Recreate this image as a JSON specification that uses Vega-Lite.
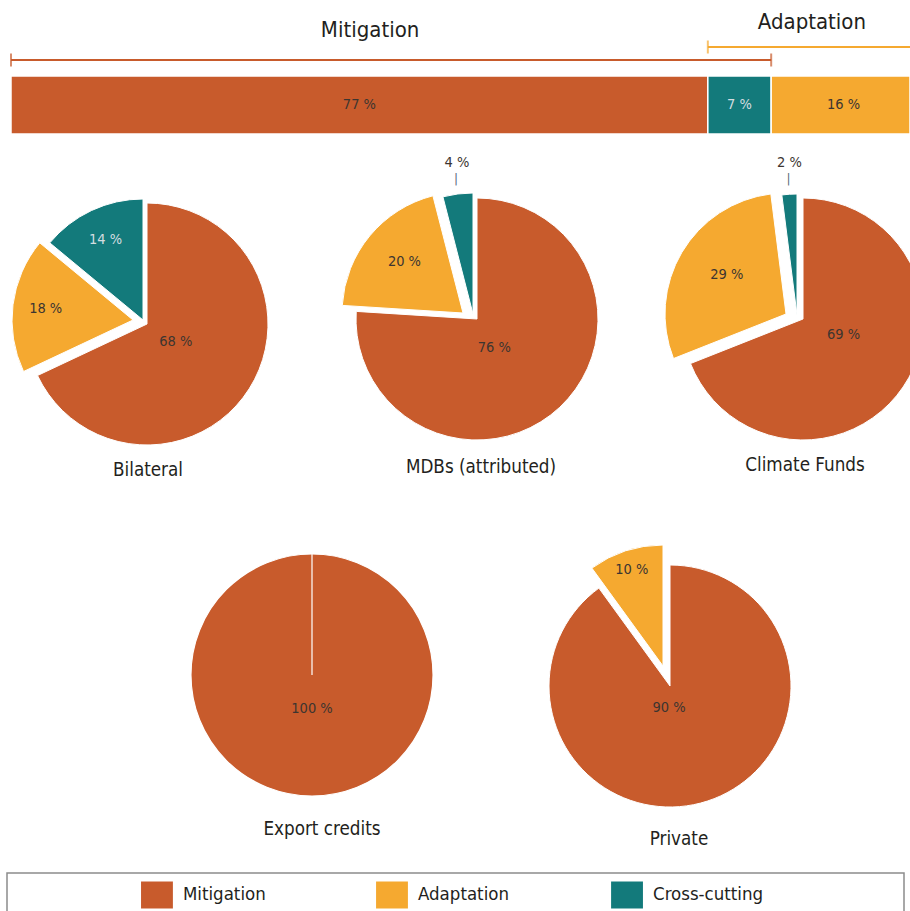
{
  "$schema": "https://vega.github.io/schema/vega-lite/v6.json",
  "background": "white",
  "padding": 0,
  "spacing": 8,
  "config": {"view": {"stroke": null}, "concat": {"spacing": 0}},
  "vconcat": [
    {
      "width": 910, "height": 67,
      "data": {"values": [{"group": "Mitigation", "start": 0, "end": 84}, {"group": "Adaptation", "start": 77, "end": 100}]},
      "layer": [
        {
          "mark": {"type": "rule", "strokeWidth": 2},
          "encoding": {
            "x": {"field": "start", "type": "quantitative", "scale": {"domain": [-1.2155, 99.34], "nice": false, "zero": false, "clamp": true}, "axis": null},
            "x2": {"field": "end"},
            "y": {"field": "group", "type": "nominal", "scale": {"type": "point", "domain": ["Adaptation", "Mitigation"], "range": [47, 60], "padding": 0}, "axis": null},
            "color": {"field": "group", "type": "nominal", "scale": {"domain": ["Mitigation", "Adaptation", "Cross-cutting"], "range": ["#C85B2C", "#F5A930", "#137A7B"]}, "legend": null}
          }
        },
        {
          "transform": [{"fold": ["start", "end"], "as": ["edge", "pos"]}, {"filter": "!(datum.group == 'Adaptation' && datum.edge == 'end')"}],
          "mark": {"type": "tick", "size": 13, "thickness": 2},
          "encoding": {
            "x": {"field": "pos", "type": "quantitative", "scale": {"domain": [-1.2155, 99.34], "nice": false, "zero": false, "clamp": true}, "axis": null},
            "y": {"field": "group", "type": "nominal", "scale": {"type": "point", "domain": ["Adaptation", "Mitigation"], "range": [47, 60], "padding": 0}, "axis": null},
            "color": {"field": "group", "type": "nominal", "scale": {"domain": ["Mitigation", "Adaptation", "Cross-cutting"], "range": ["#C85B2C", "#F5A930", "#137A7B"]}, "legend": null}
          }
        },
        {
          "transform": [{"fold": ["start", "end"], "as": ["edge", "pos"]}],
          "mark": {"type": "text", "font": "DejaVu Sans Condensed, DejaVu Sans, sans-serif", "fontSize": 22, "baseline": "middle", "color": "#231f20",
                   "dx": {"expr": "datum.group == 'Mitigation' ? -21 : 0"}, "dy": {"expr": "datum.group == 'Mitigation' ? -30 : -25"}},
          "encoding": {
            "x": {"aggregate": "mean", "field": "pos", "type": "quantitative", "scale": {"domain": [-1.2155, 99.34], "nice": false, "zero": false, "clamp": true}, "axis": null},
            "y": {"field": "group", "type": "nominal", "scale": {"type": "point", "domain": ["Adaptation", "Mitigation"], "range": [47, 60], "padding": 0}, "axis": null},
            "text": {"field": "group", "type": "nominal"}
          }
        }
      ]
    },
    {
      "width": 910, "height": 58,
      "data": {"values": [
        {"cat": "Mitigation", "value": 77, "o": 1, "label": "77 %"},
        {"cat": "Cross-cutting", "value": 7, "o": 2, "label": "7 %"},
        {"cat": "Adaptation", "value": 16, "o": 3, "label": "16 %"}
      ]},
      "encoding": {
        "y": {"datum": "bar", "type": "nominal", "scale": {"paddingInner": 0, "paddingOuter": 0}, "axis": null},
        "order": {"field": "o", "type": "quantitative"}
      },
      "layer": [
        {
          "mark": {"type": "bar", "stroke": "white", "strokeWidth": 1.5},
          "encoding": {
            "x": {"field": "value", "type": "quantitative", "stack": "zero", "scale": {"domain": [-1.2155, 99.34], "nice": false, "zero": false, "clamp": true}, "axis": null},
            "color": {"field": "cat", "type": "nominal", "scale": {"domain": ["Mitigation", "Adaptation", "Cross-cutting"], "range": ["#C85B2C", "#F5A930", "#137A7B"]}, "legend": null}
          }
        },
        {
          "mark": {"type": "text", "font": "DejaVu Sans Condensed, DejaVu Sans, sans-serif", "fontSize": 14.5, "baseline": "middle"},
          "encoding": {
            "x": {"field": "value", "type": "quantitative", "stack": "zero", "bandPosition": 0.5, "scale": {"domain": [-1.2155, 99.34], "nice": false, "zero": false, "clamp": true}, "axis": null},
            "text": {"field": "label", "type": "nominal"},
            "color": {"condition": {"test": "datum.cat == 'Cross-cutting'", "value": "#d3dde0"}, "value": "#3c3530"}
          }
        }
      ]
    },
    {
      "hconcat": [
        {
          "width": 296, "height": 362,
          "title": {"text": "Bilateral", "orient": "bottom", "frame": "group", "anchor": "middle", "offset": -29, "baseline": "alphabetic", "font": "DejaVu Sans Condensed, DejaVu Sans, sans-serif", "fontSize": 18.7, "fontWeight": "normal", "color": "#231f20"},
          "data": {"values": [
            {"cat": "Mitigation", "value": 68, "o": 1, "label": "68 %"},
            {"cat": "Adaptation", "value": 18, "o": 2, "label": "18 %"},
            {"cat": "Cross-cutting", "value": 14, "o": 3, "label": "14 %"}
          ]},
          "encoding": {
            "theta": {"field": "value", "type": "quantitative", "stack": true},
            "order": {"field": "o", "type": "quantitative"}
          },
          "layer": [
            {
              "mark": {"type": "arc", "radius": 121, "stroke": "white", "strokeWidth": 1,
                       "xOffset": {"expr": "datum.cat == 'Adaptation' ? -15 : datum.cat == 'Cross-cutting' ? -5 : -1"},
                       "yOffset": {"expr": "datum.cat == 'Adaptation' ? -4 : datum.cat == 'Cross-cutting' ? -4 : 0"}},
              "encoding": {"color": {"field": "cat", "type": "nominal", "scale": {"domain": ["Mitigation", "Adaptation", "Cross-cutting"], "range": ["#C85B2C", "#F5A930", "#137A7B"]}, "legend": null}}
            },
            {
              "mark": {"type": "text", "font": "DejaVu Sans Condensed, DejaVu Sans, sans-serif", "fontSize": 14.5, "baseline": "middle",
                       "radius": {"expr": "datum.cat == 'Mitigation' ? 34 : 88"},
                       "dx": {"expr": "datum.cat == 'Adaptation' ? -15 : datum.cat == 'Cross-cutting' ? -5 : -1"},
                       "dy": {"expr": "datum.cat == 'Adaptation' ? -4 : datum.cat == 'Cross-cutting' ? -4 : 0"}},
              "encoding": {
                "text": {"field": "label", "type": "nominal"},
                "color": {"condition": {"test": "datum.cat == 'Cross-cutting'", "value": "#d3dde0"}, "value": "#3c3530"}
              }
            }
          ]
        },
        {
          "width": 364, "height": 352,
          "title": {"text": "MDBs (attributed)", "orient": "bottom", "frame": "group", "anchor": "middle", "offset": -22, "dx": 3, "baseline": "alphabetic", "font": "DejaVu Sans Condensed, DejaVu Sans, sans-serif", "fontSize": 18.7, "fontWeight": "normal", "color": "#231f20"},
          "data": {"values": [
            {"cat": "Mitigation", "value": 76, "o": 1, "label": "76 %"},
            {"cat": "Adaptation", "value": 20, "o": 2, "label": "20 %"},
            {"cat": "Cross-cutting", "value": 4, "o": 3, "label": "4 %"}
          ]},
          "encoding": {
            "theta": {"field": "value", "type": "quantitative", "stack": true},
            "order": {"field": "o", "type": "quantitative"}
          },
          "layer": [
            {
              "mark": {"type": "arc", "radius": 121, "stroke": "white", "strokeWidth": 1,
                       "xOffset": {"expr": "datum.cat == 'Adaptation' ? -15 : datum.cat == 'Cross-cutting' ? -5 : -1"},
                       "yOffset": {"expr": "datum.cat == 'Adaptation' ? -6 : datum.cat == 'Cross-cutting' ? -5 : 0"}},
              "encoding": {"color": {"field": "cat", "type": "nominal", "scale": {"domain": ["Mitigation", "Adaptation", "Cross-cutting"], "range": ["#C85B2C", "#F5A930", "#137A7B"]}, "legend": null}}
            },
            {
              "mark": {"type": "text", "font": "DejaVu Sans Condensed, DejaVu Sans, sans-serif", "fontSize": 14.5, "baseline": "middle", "color": "#3c3530",
                       "radius": {"expr": "datum.cat == 'Mitigation' ? 34 : datum.cat == 'Adaptation' ? 76 : 152"},
                       "dx": {"expr": "datum.cat == 'Adaptation' ? -15 : datum.cat == 'Cross-cutting' ? -2 : -7"},
                       "dy": {"expr": "datum.cat == 'Adaptation' ? -9 : datum.cat == 'Cross-cutting' ? -5 : 4"}},
              "encoding": {"text": {"field": "label", "type": "nominal"}}
            },
            {
              "mark": {"type": "text", "font": "DejaVu Sans", "fontSize": 12, "baseline": "middle", "color": "#55697a", "radius": 136, "dx": -5, "dy": -5},
              "encoding": {"text": {"condition": {"test": "datum.cat == 'Cross-cutting'", "value": "|"}, "value": ""}}
            }
          ]
        },
        {
          "width": 250, "height": 352,
          "title": {"text": "Climate Funds", "orient": "bottom", "frame": "group", "anchor": "middle", "offset": -24, "dx": 20, "baseline": "alphabetic", "font": "DejaVu Sans Condensed, DejaVu Sans, sans-serif", "fontSize": 18.7, "fontWeight": "normal", "color": "#231f20"},
          "data": {"values": [
            {"cat": "Mitigation", "value": 69, "o": 1, "label": "69 %"},
            {"cat": "Adaptation", "value": 29, "o": 2, "label": "29 %"},
            {"cat": "Cross-cutting", "value": 2, "o": 3, "label": "2 %"}
          ]},
          "encoding": {
            "theta": {"field": "value", "type": "quantitative", "stack": true},
            "order": {"field": "o", "type": "quantitative"}
          },
          "layer": [
            {
              "mark": {"type": "arc", "radius": 121, "stroke": "white", "strokeWidth": 1, "clip": true,
                       "xOffset": {"expr": "datum.cat == 'Adaptation' ? 1 : datum.cat == 'Cross-cutting' ? 12 : 18"},
                       "yOffset": {"expr": "datum.cat == 'Adaptation' ? -5 : datum.cat == 'Cross-cutting' ? -4 : 0"}},
              "encoding": {"color": {"field": "cat", "type": "nominal", "scale": {"domain": ["Mitigation", "Adaptation", "Cross-cutting"], "range": ["#C85B2C", "#F5A930", "#137A7B"]}, "legend": null}}
            },
            {
              "mark": {"type": "text", "font": "DejaVu Sans Condensed, DejaVu Sans, sans-serif", "fontSize": 14.5, "baseline": "middle", "color": "#3c3530",
                       "radius": {"expr": "datum.cat == 'Mitigation' ? 43 : datum.cat == 'Adaptation' ? 71 : 152"},
                       "dx": {"expr": "datum.cat == 'Adaptation' ? 3 : datum.cat == 'Cross-cutting' ? 14 : 23"},
                       "dy": {"expr": "datum.cat == 'Adaptation' ? -8 : datum.cat == 'Cross-cutting' ? -4 : -8"}},
              "encoding": {"text": {"field": "label", "type": "nominal"}}
            },
            {
              "mark": {"type": "text", "font": "DejaVu Sans", "fontSize": 12, "baseline": "middle", "color": "#55697a", "radius": 136, "dx": 12, "dy": -4},
              "encoding": {"text": {"condition": {"test": "datum.cat == 'Cross-cutting'", "value": "|"}, "value": ""}}
            }
          ]
        }
      ],
      "spacing": 0,
      "bounds": "flush"
    },
    {
      "hconcat": [
        {
          "width": 624, "height": 324,
          "title": {"text": "Export credits", "orient": "bottom", "frame": "group", "anchor": "middle", "offset": -2, "dx": 10, "baseline": "alphabetic", "font": "DejaVu Sans Condensed, DejaVu Sans, sans-serif", "fontSize": 18.7, "fontWeight": "normal", "color": "#231f20"},
          "data": {"values": [
            {"cat": "Mitigation", "value": 100, "o": 1, "label": "100 %"},
            {"cat": "Adaptation", "value": 0, "o": 2, "label": ""}
          ]},
          "encoding": {
            "theta": {"field": "value", "type": "quantitative", "stack": true},
            "order": {"field": "o", "type": "quantitative"}
          },
          "layer": [
            {
              "mark": {"type": "arc", "radius": 121, "stroke": "white", "strokeWidth": 1.2},
              "encoding": {"color": {"field": "cat", "type": "nominal", "scale": {"domain": ["Mitigation", "Adaptation", "Cross-cutting"], "range": ["#C85B2C", "#F5A930", "#137A7B"]}, "legend": null}}
            },
            {
              "mark": {"type": "text", "font": "DejaVu Sans Condensed, DejaVu Sans, sans-serif", "fontSize": 14.5, "baseline": "middle", "color": "#3c3530", "radius": 34},
              "encoding": {"text": {"field": "label", "type": "nominal"}}
            }
          ]
        },
        {
          "width": 92, "height": 346,
          "title": {"text": "Private", "orient": "bottom", "frame": "group", "anchor": "middle", "offset": -14, "dx": 9, "baseline": "alphabetic", "font": "DejaVu Sans Condensed, DejaVu Sans, sans-serif", "fontSize": 18.7, "fontWeight": "normal", "color": "#231f20"},
          "data": {"values": [
            {"cat": "Mitigation", "value": 90, "o": 1, "label": "90 %"},
            {"cat": "Adaptation", "value": 10, "o": 2, "label": "10 %"}
          ]},
          "encoding": {
            "theta": {"field": "value", "type": "quantitative", "stack": true},
            "order": {"field": "o", "type": "quantitative"}
          },
          "layer": [
            {
              "mark": {"type": "arc", "radius": 121, "stroke": "white", "strokeWidth": 1,
                       "xOffset": {"expr": "datum.cat == 'Adaptation' ? -7 : 0"},
                       "yOffset": {"expr": "datum.cat == 'Adaptation' ? -20 : 0"}},
              "encoding": {"color": {"field": "cat", "type": "nominal", "scale": {"domain": ["Mitigation", "Adaptation", "Cross-cutting"], "range": ["#C85B2C", "#F5A930", "#137A7B"]}, "legend": null}}
            },
            {
              "mark": {"type": "text", "font": "DejaVu Sans Condensed, DejaVu Sans, sans-serif", "fontSize": 14.5, "baseline": "middle", "color": "#3c3530",
                       "radius": {"expr": "datum.cat == 'Mitigation' ? 23 : 101"},
                       "dx": {"expr": "datum.cat == 'Adaptation' ? -7 : -8"},
                       "dy": {"expr": "datum.cat == 'Adaptation' ? -20 : 0"}},
              "encoding": {"text": {"field": "label", "type": "nominal"}}
            }
          ]
        },
        {
          "width": 1, "height": 351,
          "data": {"values": [{}]},
          "mark": {"type": "text"},
          "encoding": {"text": {"value": ""}}
        }
      ],
      "spacing": 0,
      "bounds": "flush"
    },
    {
      "hconcat": [
        {
          "width": 7, "height": 40,
          "data": {"values": [{}]},
          "mark": {"type": "text"},
          "encoding": {"text": {"value": ""}}
        },
        {
          "width": 897, "height": 40,
          "view": {"stroke": "#8c8c8c", "strokeWidth": 1.5},
          "data": {"values": [{"cat": "Mitigation"}, {"cat": "Adaptation"}, {"cat": "Cross-cutting"}]},
          "encoding": {
            "x": {"field": "cat", "type": "nominal", "sort": ["Mitigation", "Adaptation", "Cross-cutting"], "bandPosition": 0, "scale": {"type": "band", "paddingInner": 0.3234, "paddingOuter": 0.57}, "axis": null}
          },
          "layer": [
            {
              "mark": {"type": "point", "shape": "M-1.18,-1L1.18,-1L1.18,1L-1.18,1Z", "size": 729, "filled": true, "opacity": 1, "xOffset": 16, "yOffset": 2},
              "encoding": {"color": {"field": "cat", "type": "nominal", "scale": {"domain": ["Mitigation", "Adaptation", "Cross-cutting"], "range": ["#C85B2C", "#F5A930", "#137A7B"]}, "legend": null}}
            },
            {
              "mark": {"type": "text", "font": "DejaVu Sans Condensed, DejaVu Sans, sans-serif", "fontSize": 18.5, "align": "left", "baseline": "middle", "dx": 42, "dy": 1, "color": "#231f20"},
              "encoding": {"text": {"field": "cat", "type": "nominal"}}
            }
          ]
        }
      ],
      "spacing": 0,
      "bounds": "flush"
    }
  ]
}
